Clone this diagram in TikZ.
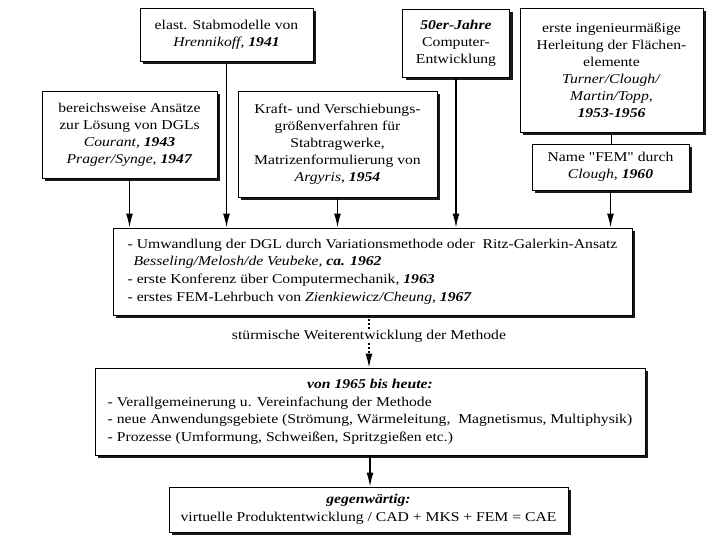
\documentclass[tikz,border=0pt]{standalone}
\usepackage{fontspec}
\setmainfont{Liberation Serif}[FakeStretch=1.16, Ligatures=TeXOff]
\usetikzlibrary{arrows.meta,shadows}
\newcommand{\bitxt}[1]{\textbf{\textit{#1}}}
\begin{document}
\begin{tikzpicture}[x=1pt,y=-1pt,
  box/.style={draw, line width=0.9pt, fill=white, inner sep=2pt, align=center,
    font=\fontsize{13.5}{17}\selectfont,
    drop shadow={shadow xshift=3pt, shadow yshift=-3pt, fill=black, opacity=0.9}},
  arr/.style={line width=1.4pt, -{Latex[length=14pt,width=7pt]}},
  lbl/.style={font=\fontsize{13.5}{17}\selectfont, inner sep=1pt},
]
\useasboundingbox (0,0) rectangle (726,541);

\node[box, minimum width=173pt, minimum height=53pt] (A) at (226.5,34.5)
  {elast. Stabmodelle von\\\textit{Hrennikoff,} \bitxt{1941}};
\node[box, minimum width=175pt, minimum height=87pt] (B) at (129.5,134.5)
  {bereichsweise Ansätze\\zur Lösung von DGLs\\\textit{Courant,} \bitxt{1943}\\\textit{Prager/Synge,} \bitxt{1947}};
\node[box, minimum width=199pt, minimum height=106pt] (C) at (337.5,144)
  {Kraft- und Verschiebungs-\\größenverfahren für\\Stabtragwerke,\\Matrizenformulierung von\\\textit{Argyris,} \bitxt{1954}};
\node[box, minimum width=107pt, minimum height=68pt] (D) at (456,43)
  {\bitxt{50er-Jahre}\\Computer-\\Entwicklung};
\node[box, minimum width=183pt, minimum height=124pt] (E) at (611.5,70)
  {erste ingenieurmäßige\\Herleitung der Flächen-\\elemente\\\textit{Turner/Clough/}\\\textit{Martin/Topp,}\\\bitxt{1953-1956}};
\node[box, minimum width=157pt, minimum height=46pt] (F) at (610.5,167)
  {Name "FEM" durch\\\textit{Clough,} \bitxt{1960}};

\node[box, align=left, font=\fontsize{13.5}{17.7}\selectfont, minimum width=519pt, minimum height=87pt] (G) at (372.5,271.5)
  {- Umwandlung der DGL durch Variationsmethode oder\ \ Ritz-Galerkin-Ansatz\\
   \hspace*{6pt}\textit{Besseling/Melosh/de Veubeke,} \bitxt{ca. 1962}\\
   - erste Konferenz über Computermechanik, \bitxt{1963}\\
   - erstes FEM-Lehrbuch von \textit{Zienkiewicz/Cheung,} \bitxt{1967}};

\node[lbl] (L) at (369,336) {stürmische Weiterentwicklung der Methode};

\node[box, font=\fontsize{13.5}{17.5}\selectfont, minimum width=550pt, minimum height=87pt] (H) at (370,411.5)
  {\begin{tabular}{@{}l@{}}
   \multicolumn{1}{@{}c@{}}{\bitxt{von 1965 bis heute:}}\\
   - Verallgemeinerung u. Vereinfachung der Methode\\
   - neue Anwendungsgebiete (Strömung, Wärmeleitung,\ \ Magnetismus, Multiphysik)\\
   - Prozesse (Umformung, Schweißen, Spritzgießen etc.)
   \end{tabular}};

\node[box, font=\fontsize{13.5}{18}\selectfont, minimum width=399pt, minimum height=45pt] (I) at (368.5,509.5)
  {\bitxt{gegenwärtig:}\\virtuelle Produktentwicklung / CAD + MKS + FEM = CAE};

\draw[arr] (A.south) -- (A.south |- G.north);
\draw[arr] (B.south) -- (B.south |- G.north);
\draw[arr] (C.south) -- (C.south |- G.north);
\draw[arr] (D.south) -- (D.south |- G.north);
\draw[line width=1.4pt] (E.south) -- (E.south |- F.north);
\draw[arr] (F.south) -- (F.south |- G.north);
\draw[line width=1.6pt, dash pattern=on 1.6pt off 2.4pt] (L.north |- G.south) -- (L.north);
\draw[arr, dash pattern=on 1.6pt off 2.4pt] (L.south) -- (L.south |- H.north);
\draw[arr] (H.south) -- (H.south |- I.north);
\end{tikzpicture}
\end{document}
